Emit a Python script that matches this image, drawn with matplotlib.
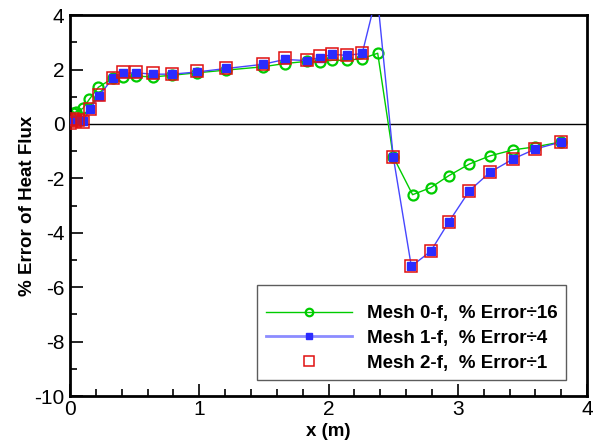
import numpy as np
import matplotlib.pyplot as plt
from matplotlib.ticker import MultipleLocator

plt.rcParams['font.family'] = ['Liberation Sans', 'DejaVu Sans']
plt.rcParams['axes.unicode_minus'] = False

# Mesh 0-f (error divided by 16)
x0 = [0.0, 0.02, 0.05, 0.10, 0.15, 0.22, 0.33, 0.41, 0.51, 0.64, 0.79, 0.98, 1.21, 1.49,
      1.66, 1.83, 1.93, 2.03, 2.14, 2.26, 2.38, 2.50, 2.65, 2.79, 2.93, 3.09, 3.25, 3.43,
      3.60, 3.80]
y0 = [0.30, 0.40, 0.45, 0.57, 0.91, 1.35, 1.68, 1.73, 1.76, 1.73, 1.79, 1.88, 1.98, 2.10,
      2.22, 2.30, 2.28, 2.34, 2.34, 2.40, 2.60, -1.20, -2.60, -2.34, -1.90, -1.47, -1.17,
      -0.95, -0.84, -0.66]

# Mesh 1-f (error divided by 4)
x1 = [0.0, 0.02, 0.04, 0.06, 0.10, 0.155, 0.225, 0.33, 0.41, 0.51, 0.64, 0.79, 0.98, 1.21,
      1.49, 1.66, 1.83, 1.93, 2.03, 2.14, 2.26, 2.375, 2.50, 2.64, 2.79, 2.93, 3.09, 3.25,
      3.43, 3.60, 3.80]
y1 = [0.10, 0.15, 0.15, 0.14, 0.10, 0.55, 1.03, 1.68, 1.86, 1.88, 1.83, 1.83, 1.91, 2.04,
      2.19, 2.37, 2.33, 2.44, 2.56, 2.52, 2.59, 4.80, -1.20, -5.23, -4.68, -3.60, -2.45,
      -1.77, -1.28, -0.92, -0.66]

# Mesh 2-f (error divided by 1)
x2 = [0.0, 0.02, 0.04, 0.06, 0.10, 0.155, 0.225, 0.33, 0.41, 0.51, 0.64, 0.79, 0.98, 1.21,
      1.49, 1.66, 1.83, 1.93, 2.03, 2.14, 2.26, 2.50, 2.64, 2.79, 2.93, 3.09, 3.25, 3.43,
      3.60, 3.80]
y2 = [0.05, 0.20, 0.12, 0.15, 0.08, 0.55, 1.05, 1.70, 1.90, 1.92, 1.86, 1.85, 1.93, 2.07,
      2.22, 2.43, 2.35, 2.48, 2.58, 2.52, 2.60, -1.20, -5.23, -4.68, -3.60, -2.45, -1.77,
      -1.28, -0.92, -0.66]

fig = plt.figure(figsize=(6.07, 4.45), dpi=100)
ax = fig.add_axes([0.1153, 0.110, 0.852, 0.856])

ax.axhline(0, color='black', lw=1.0, zorder=1)

ax.plot(x0, y0, color='#00cc00', lw=1.0, marker='o', ms=7.2, mfc='none', mec='#00cc00',
        mew=1.6, label='Mesh 0-f,  % Error\u00f716', zorder=2)
ax.plot(x1, y1, color='#4646ff', lw=1.0, marker='s', ms=6.3, mfc='#2b2bff', mec='#2b2bff',
        label='Mesh 1-f,  % Error\u00f74', zorder=3)
ax.plot(x2, y2, ls='none', marker='s', ms=9.2, mfc='none', mec='#e01010', mew=1.1,
        label='Mesh 2-f,  % Error\u00f71', zorder=4)

ax.set_xlim(0, 4)
ax.set_ylim(-10, 4)
ax.xaxis.set_major_locator(MultipleLocator(1))
ax.xaxis.set_minor_locator(MultipleLocator(0.2))
ax.yaxis.set_major_locator(MultipleLocator(2))
ax.yaxis.set_minor_locator(MultipleLocator(1))
ax.tick_params(which='both', direction='in', top=False, right=False, labelsize=15, width=1.2)
ax.tick_params(which='major', length=9)
ax.tick_params(which='minor', length=5)
ax.tick_params(axis='x', pad=3)
ax.tick_params(axis='y', pad=4)
for s in ax.spines.values():
    s.set_linewidth(2.0)

ax.set_xlabel('x (m)', fontsize=13.5, fontweight='bold')
ax.set_ylabel('% Error of Heat Flux', fontsize=13.5, fontweight='bold')
ax.xaxis.set_label_coords(0.5, -0.072)
ax.yaxis.set_label_coords(-0.066, 0.5)

leg = ax.legend(loc='lower right', bbox_to_anchor=(0.959, 0.042),
                prop={'weight': 'bold', 'size': 13.5}, frameon=True, fancybox=False,
                edgecolor='#333333', handlelength=4.6, handletextpad=0.8,
                labelspacing=0.4, borderpad=0.45, borderaxespad=0, markerscale=0.75,
                title=' ', title_fontsize=2)
leg.get_frame().set_linewidth(1.0)
# thicker, lighter line for the Mesh 1-f legend entry
leg.get_lines()[1].set_color('#8c8cff')
leg.get_lines()[1].set_linewidth(2.0)

fig.savefig('out.png', dpi=100)
